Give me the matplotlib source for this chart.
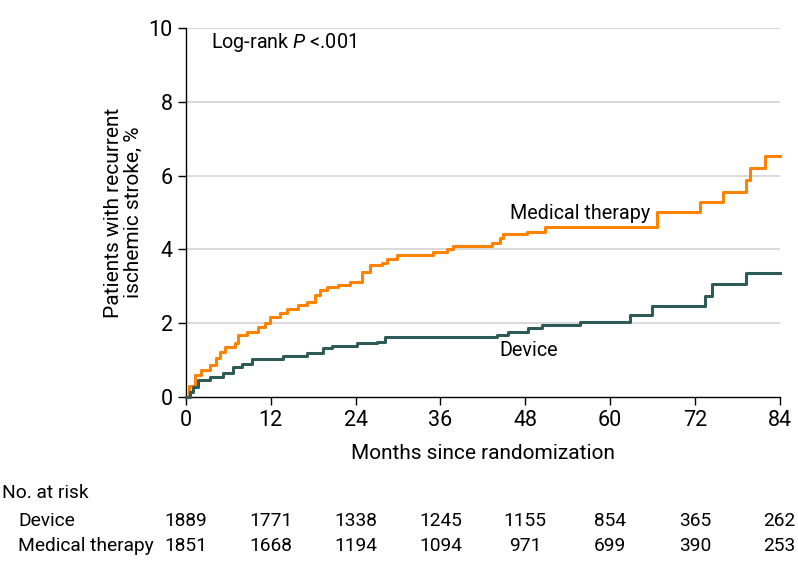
import numpy as np
import matplotlib
matplotlib.use('Agg')
import matplotlib.pyplot as plt

plt.rcParams['font.family'] = ['Roboto', 'DejaVu Sans']
plt.rcParams['mathtext.fontset'] = 'custom'
plt.rcParams['mathtext.it'] = 'Roboto:italic'

# Step curves (months, cumulative %)
med_t = [0, 0.5, 1.3, 2.2, 3.4, 4.3, 4.8, 5.5, 6.9, 7.4, 8.6, 10.2, 11.2, 11.9, 13.3,
         14.3, 15.8, 17.1, 18.2, 19.0, 19.9, 21.5, 23.2, 24.9, 26.0, 27.7, 28.4,
         29.8, 34.9, 36.9, 37.8, 43.3, 44.4, 44.9, 48.2, 50.8, 66.6, 72.7, 76.0,
         79.3, 79.8, 81.9, 84]
med_y = [0, 0.3, 0.6, 0.73, 0.87, 1.05, 1.22, 1.36, 1.46, 1.68, 1.76, 1.9, 2.0, 2.17, 2.28,
         2.38, 2.49, 2.58, 2.76, 2.9, 2.98, 3.05, 3.12, 3.39, 3.58, 3.63, 3.74,
         3.85, 3.93, 4.01, 4.09, 4.17, 4.3, 4.42, 4.47, 4.6, 5.02, 5.28, 5.56,
         5.88, 6.2, 6.53, 6.53]

dev_t = [0, 0.6, 1.0, 1.7, 3.4, 5.2, 6.6, 7.9, 9.3, 13.7, 17.1, 19.4, 20.6, 24.2,
         27.1, 28.1, 44.0, 45.5, 48.4, 50.4, 55.7, 62.8, 66.0, 73.5, 74.5, 79.3, 84]
dev_y = [0, 0.15, 0.27, 0.46, 0.54, 0.65, 0.81, 0.89, 1.03, 1.11, 1.19, 1.33, 1.38, 1.46,
         1.5, 1.62, 1.68, 1.77, 1.87, 1.95, 2.03, 2.22, 2.47, 2.74, 3.06, 3.36, 3.36]

months = [0, 12, 24, 36, 48, 60, 72, 84]
risk_device = [1889, 1771, 1338, 1245, 1155, 854, 365, 262]
risk_medical = [1851, 1668, 1194, 1094, 971, 699, 390, 253]

orange = '#FF8200'
teal = '#2E5B58'
fs = 14.2
fs_tab = 13.8

fig = plt.figure(figsize=(7.98, 5.73), dpi=100)
ax = fig.add_axes([0.233, 0.307, 0.744, 0.644])

ax.step(med_t, med_y, where='post', color=orange, lw=2.2, zorder=3, clip_on=False)
ax.step(dev_t, dev_y, where='post', color=teal, lw=2.2, zorder=3, clip_on=False)

ax.set_xlim(0, 84)
ax.set_ylim(0, 10)
ax.set_xticks(months)
ax.set_yticks(np.arange(0, 11, 2))
for v in range(2, 11, 2):
    ax.axhline(v, color='#d9d9d9', lw=1.4, zorder=1)

for s in ['top', 'right']:
    ax.spines[s].set_visible(False)
for s in ['left', 'bottom']:
    ax.spines[s].set_linewidth(1.0)
ax.tick_params(labelsize=15.5, length=6, width=1.0)

ax.set_xlabel('Months since randomization', fontsize=15, labelpad=9)
ax.set_ylabel('Patients with recurrent\nischemic stroke, %', fontsize=15, labelpad=4,
              linespacing=1.05)

ax.text(3.6, 9.6, 'Log-rank $\\it{P}$ <.001', fontsize=fs, va='center')
ax.text(45.9, 4.97, 'Medical therapy', fontsize=fs, va='center')
ax.text(44.3, 1.27, 'Device', fontsize=fs, va='center')

# numbers at risk table below the axis
trans = matplotlib.transforms.blended_transform_factory(ax.transData, fig.transFigure)
fig.text(2 / 798, 1 - 493 / 573, 'No. at risk', fontsize=fs_tab, va='center')
fig.text(18 / 798, 1 - 521 / 573, 'Device', fontsize=fs_tab, va='center')
fig.text(18 / 798, 1 - 546 / 573, 'Medical therapy', fontsize=fs_tab, va='center')
for m, d, mt in zip(months, risk_device, risk_medical):
    ax.text(m, 1 - 521 / 573, str(d), transform=trans, fontsize=fs_tab, ha='center', va='center')
    ax.text(m, 1 - 546 / 573, str(mt), transform=trans, fontsize=fs_tab, ha='center', va='center')

plt.savefig('out.png', dpi=100)
